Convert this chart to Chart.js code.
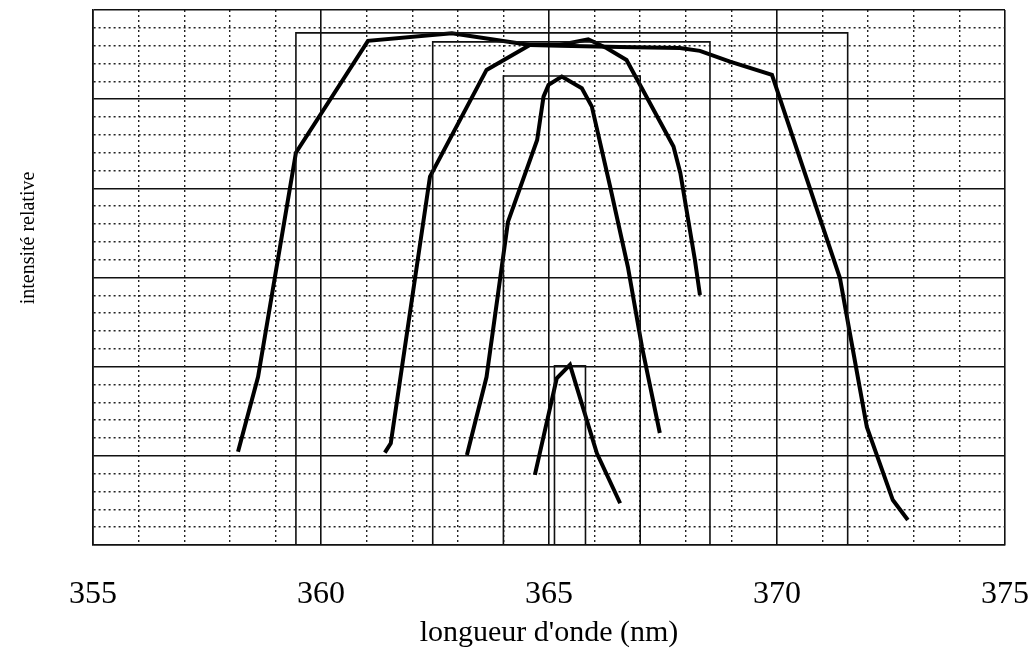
<!DOCTYPE html>
<html>
<head>
<meta charset="utf-8">
<script src="https://cdn.jsdelivr.net/npm/chart.js@4/dist/chart.umd.min.js"></script>
<style>
  html, body { margin: 0; padding: 0; background: #fff; }
  #wrap { width: 1034px; height: 655px; position: relative; }
</style>
</head>
<body>
<div id="wrap"><canvas id="myChart"></canvas></div>
<script>
// SPECTRAL PROFILES (wavelength in nm, relative intensity)

const wl1 = [358.18, 358.62, 359.45, 361.03, 362.87, 364.58, 365.24, 366.56, 367.87, 368.31, 368.97, 369.89, 371.38, 371.97, 372.54, 372.87];
const int1 = [5.23, 9.43, 22.0, 28.27, 28.69, 28.04, 27.99, 27.93, 27.87, 27.71, 27.11, 26.36, 14.97, 6.62, 2.52, 1.40];

const wl2 = [361.40, 361.53, 362.39, 363.63, 364.58, 365.24, 365.86, 366.27, 366.70, 367.73, 367.88, 368.20, 368.31];
const int2 = [5.18, 5.70, 20.66, 26.64, 28.04, 28.04, 28.36, 27.86, 27.20, 22.34, 20.86, 15.98, 14.02];

const wl3 = [363.20, 363.63, 364.10, 364.74, 364.88, 364.99, 365.28, 365.72, 365.94, 366.34, 366.73, 367.04, 367.43];
const int3 = [5.05, 9.42, 18.12, 22.71, 25.14, 25.80, 26.27, 25.61, 24.58, 20.10, 15.59, 11.10, 6.28];

const wl4 = [364.69, 365.17, 365.46, 366.05, 366.56];
const int4 = [3.93, 9.35, 10.10, 5.14, 2.34];

// rectangular passbands: left / right edge (nm) and top level
const boxLeft = [359.45, 362.45, 364.0, 365.12];
const boxRight = [371.55, 368.53, 367.0, 365.8];
const boxTop = [28.72, 28.21, 26.3, 10.05];

const xTicks = [355, 360, 365, 370, 375];

// BUILD DATASETS

function toPoints(xs, ys) {
  return xs.map((x, i) => ({ x: x, y: ys[i] }));
}

function curve(xs, ys) {
  return {
    data: toPoints(xs, ys),
    borderColor: "#000",
    borderWidth: 4,
    pointRadius: 0,
    tension: 0,
    fill: false,
  };
}

function box(i) {
  return {
    data: toPoints(
      [boxLeft[i], boxLeft[i], boxRight[i], boxRight[i]],
      [0, boxTop[i], boxTop[i], 0]
    ),
    borderColor: "#111",
    borderWidth: 1.6,
    pointRadius: 0,
    tension: 0,
    fill: false,
  };
}

let datasets = [];
boxLeft.forEach((_, i) => datasets.push(box(i)));
datasets.push(curve(wl1, int1));
datasets.push(curve(wl2, int2));
datasets.push(curve(wl3, int3));
datasets.push(curve(wl4, int4));

// grid: solid every 5 units, dotted in between
const isMajor = (c) => c.tick && Math.round(c.tick.value) % 5 === 0;

const gridOpts = {
  drawTicks: false,
  color: (c) => (isMajor(c) ? "#111" : "#222"),
  lineWidth: (c) => (isMajor(c) ? 1.6 : 1.4),
};
const borderOpts = {
  color: "#111",
  width: 1.6,
  dash: (c) => (c.type === "tick" && !isMajor(c) ? [2, 3] : []),
};

// vertical axis title, drawn beside the plot
const yTitle = {
  id: "yTitle",
  afterDraw(chart) {
    const c = chart.ctx;
    c.save();
    c.translate(29, 238);
    c.rotate(-Math.PI / 2);
    c.font = '20px "Liberation Serif"';
    c.fillStyle = "#000";
    c.textAlign = "center";
    c.textBaseline = "middle";
    c.fillText("intensité relative", 0, 0);
    c.restore();
  },
};

const ctx = document.getElementById("myChart").getContext("2d");
let myChart = new Chart(ctx, {
  type: "line",
  data: { datasets: datasets },
  options: {
    responsive: true,
    maintainAspectRatio: false,
    animation: false,
    layout: { padding: { left: 93, top: 10, right: 29, bottom: 0 } },
    plugins: { legend: { display: false }, tooltip: { enabled: false } },
    scales: {
      x: {
        type: "linear",
        min: 355,
        max: 375,
        afterFit: (s) => {
          s.height = 110;
          // end labels may overhang the plot edges
          s.paddingLeft = 0;
          s.paddingRight = 0;
        },
        ticks: {
          stepSize: 1,
          autoSkip: false,
          maxRotation: 0,
          padding: 30,
          color: "#000",
          font: { family: "Liberation Serif", size: 32 },
          callback: (v) => (xTicks.includes(v) ? v : ""),
        },
        grid: gridOpts,
        border: borderOpts,
        title: {
          display: true,
          text: "longueur d'onde (nm)",
          color: "#000",
          font: { family: "Liberation Serif", size: 30 },
          padding: { top: 0, bottom: 4 },
        },
      },
      y: {
        type: "linear",
        min: 0,
        max: 30,
        afterFit: (s) => { s.width = 0; },
        ticks: { stepSize: 1, display: false },
        grid: gridOpts,
        border: borderOpts,
      },
    },
  },
  plugins: [yTitle],
});
</script>
</body>
</html>
